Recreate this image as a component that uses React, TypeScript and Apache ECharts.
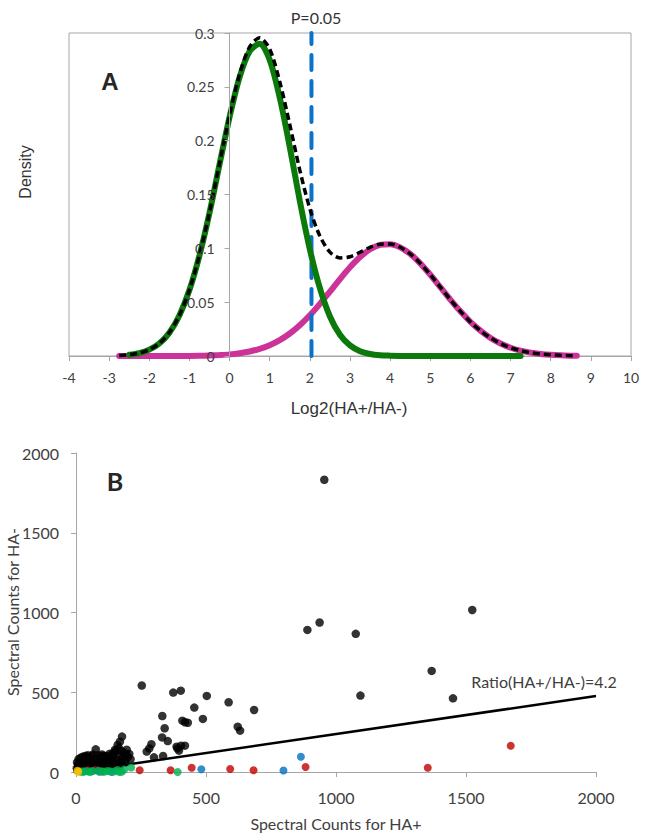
import React, { useEffect, useRef } from "react";
import * as echarts from "echarts";

// ---------- Panel A: density curves ----------
const densityX = [
  -2.75, -2.5, -2.25, -2, -1.75, -1.5, -1.25, -1, -0.75, -0.5, -0.25, 0, 0.25, 0.5, 0.75, 1, 1.25,
  1.5, 1.75, 2, 2.25, 2.5, 2.75, 3, 3.25, 3.5, 3.75, 4, 4.25, 4.5, 4.75, 5, 5.25, 5.5, 5.75, 6,
  6.25, 6.5, 6.75, 7, 7.25, 7.5, 7.75, 8, 8.25, 8.5, 8.65,
];
const greenDensity: (number | null)[] = [
  null, 0.0012, 0.0027, 0.0059, 0.0116, 0.0217, 0.0377, 0.0613, 0.0934, 0.133, 0.178, 0.222,
  0.259, 0.283, 0.29, 0.275, 0.24, 0.194, 0.144, 0.099, 0.063, 0.0367, 0.0197, 0.0098, 0.0045,
  0.0019, 0.0007, 0.0003, 0.0001, 0, 0, 0, 0, 0, 0, 0, 0, 0, 0, 0, 0, null, null, null, null,
  null, null,
];
const magentaDensity = [
  0, 0, 0, 0, 0, 0.0001, 0.0001, 0.0001, 0.0002, 0.0005, 0.0009, 0.0015, 0.0026, 0.0042, 0.0066,
  0.01, 0.0147, 0.0209, 0.0286, 0.0378, 0.0484, 0.0598, 0.0714, 0.0824, 0.0919, 0.0991, 0.1032,
  0.1038, 0.1009, 0.0948, 0.0861, 0.0755, 0.064, 0.0524, 0.0415, 0.0317, 0.0235, 0.0168, 0.0116,
  0.0077, 0.005, 0.0031, 0.0019, 0.0011, 0.0006, 0.0003, 0.0002,
];
const combinedDensity = [
  0.0005, 0.0012, 0.0027, 0.0059, 0.0116, 0.0218, 0.0378, 0.0614, 0.0936, 0.1335, 0.1789, 0.2235,
  0.2616, 0.2872, 0.2955, 0.285, 0.2547, 0.2149, 0.1726, 0.1368, 0.1114, 0.0965, 0.0911, 0.0922,
  0.0964, 0.101, 0.1039, 0.1041, 0.101, 0.0948, 0.0861, 0.0755, 0.064, 0.0524, 0.0415, 0.0317,
  0.0235, 0.0168, 0.0116, 0.0077, 0.005, 0.0031, 0.0019, 0.0011, 0.0006, 0.0003, 0.0002,
];
const cutoffX = 2.04;
const cutoffLabel = "P=0.05";

// ---------- Panel B: spectral counts scatter ----------
const blackPoints = [
  [955, 1832], [890, 891], [937, 937], [1076, 866], [1524, 1016], [1368, 634], [1094, 479],
  [1450, 462], [253, 542], [374, 498], [403, 510], [503, 477], [587, 437], [685, 389], [455, 404],
  [488, 333], [332, 351], [341, 274], [409, 322], [419, 312], [430, 309], [622, 284], [631, 259],
  [331, 217], [353, 194], [290, 174], [282, 148], [272, 128], [300, 92], [335, 100], [387, 159],
  [404, 165], [419, 165], [396, 134], [390, 148], [177, 222], [169, 190], [160, 169], [205, 113],
  [76, 142], [150, 128], [137, 107], [105, 100], [92, 96], [169, 107], [182, 96], [54, 86],
  [35, 75], [22, 65], [15, 51], [9, 38], [73, 75], [118, 75], [156, 79], [188, 75], [131, 54],
  [54, 50], [86, 59], [28, 33], [105, 44], [169, 54], [3, 23], [41, 23], [67, 33], [12, 30],
  [20, 45], [30, 55], [45, 60], [60, 65], [80, 80], [95, 70], [110, 90], [125, 85], [140, 95],
  [150, 140], [165, 150], [175, 130], [185, 120], [195, 105], [100, 55], [120, 60], [140, 65],
  [160, 70], [175, 62], [190, 58], [50, 40], [70, 45], [90, 40], [110, 35], [130, 40], [150, 42],
  [170, 45], [60, 100], [40, 95], [5, 10], [15, 15], [25, 18], [8, 50], [4, 60], [10, 80],
  [18, 90], [25, 95], [35, 100], [45, 105], [65, 110], [85, 105], [100, 110], [115, 100],
  [130, 115], [145, 120], [200, 95], [210, 80], [195, 140],
];
const redPoints = [
  [1672, 165], [1353, 27], [883, 31], [245, 11], [364, 11], [445, 27], [593, 19], [683, 11],
  [20, 5], [45, 10], [75, 12], [100, 5],
];
const bluePoints = [
  [865, 96], [482, 17], [798, 9], [138, 0], [30, 3], [60, 5], [90, 2],
];
const greenPoints = [
  [391, 0], [212, 28], [176, 2], [167, 0], [109, 2], [86, 8], [54, 0], [15, 3], [35, 5], [130, 5],
  [160, 12], [185, 15], [25, 2], [45, 4], [65, 6], [100, 3], [120, 6], [150, 4],
];
const yellowPoints = [
  [9, 2], [5, 8],
];
const ratioValue = 4.2;
const ratioLine = [
  [0, 0],
  [2000, 476],
];

const calibri = 'Lato, "Open Sans", sans-serif';
const arial = '"Liberation Sans", Arial, sans-serif';
const axisGray = "#a6a6a6";
const textGray = "#404040";

function pairs(xs: number[], ys: (number | null)[]) {
  const out: number[][] = [];
  xs.forEach((x, i) => {
    const y = ys[i];
    if (y !== null && y !== undefined) out.push([x, y]);
  });
  return out;
}

export default function App() {
  const ref = useRef<HTMLDivElement>(null);
  useEffect(() => {
    const chart = echarts.init(ref.current!, null, { renderer: "svg" });
    // top grid geometry: x from -4..10 over 562 px; y axis sits at x = 0
    const gridALeft = 69;
    const gridAWidth = 562;
    const zeroOffset = -((0 - -4) / (10 - -4)) * gridAWidth;
    const option: any = {
      animation: false,
      backgroundColor: "#ffffff",
      grid: [
        {
          left: gridALeft,
          top: 33,
          width: gridAWidth,
          height: 323,
          show: true,
          borderColor: axisGray,
          borderWidth: 1,
          backgroundColor: "transparent",
        },
        { left: 76, top: 453, width: 520, height: 319 },
      ],
      xAxis: [
        {
          type: "value",
          gridIndex: 0,
          min: -4,
          max: 10,
          interval: 1,
          splitLine: { show: false },
          axisLine: { onZero: false, lineStyle: { color: axisGray } },
          axisTick: { show: true, length: 5, lineStyle: { color: axisGray } },
          axisLabel: { fontFamily: calibri, fontSize: 14, color: textGray, margin: 14 },
        },
        {
          type: "value",
          gridIndex: 1,
          min: 0,
          max: 2000,
          interval: 500,
          splitLine: { show: false },
          axisLine: { lineStyle: { color: axisGray } },
          axisTick: { show: true, length: 5, lineStyle: { color: axisGray } },
          axisLabel: {
            fontFamily: calibri,
            fontSize: 16,
            color: textGray,
            margin: 17,
            formatter: (v: number) => String(v),
          },
        },
      ],
      yAxis: [
        {
          type: "value",
          gridIndex: 0,
          min: 0,
          max: 0.3,
          interval: 0.05,
          position: "left",
          offset: zeroOffset,
          z: 10,
          splitLine: { show: false },
          axisLine: { show: true, onZero: false, lineStyle: { color: axisGray } },
          axisTick: { show: true, length: 5, lineStyle: { color: axisGray } },
          axisLabel: {
            fontFamily: calibri,
            fontSize: 14,
            color: textGray,
            margin: 15,
            showMinLabel: true,
            showMaxLabel: true,
            hideOverlap: false,
            formatter: (v: number) => String(+v.toFixed(2)),
          },
        },
        {
          type: "value",
          gridIndex: 1,
          min: 0,
          max: 2000,
          interval: 500,
          splitLine: { show: false },
          axisLine: { show: true, lineStyle: { color: axisGray } },
          axisTick: { show: true, length: 5, lineStyle: { color: axisGray } },
          axisLabel: {
            fontFamily: calibri,
            fontSize: 16,
            color: textGray,
            margin: 17,
            formatter: (v: number) => String(v),
          },
        },
      ],
      series: [
        {
          type: "line",
          xAxisIndex: 0,
          yAxisIndex: 0,
          data: pairs(densityX, magentaDensity),
          smooth: 0.3,
          showSymbol: false,
          lineStyle: { color: "#CC3399", width: 6, cap: "round" },
          z: 2,
        },
        {
          type: "line",
          xAxisIndex: 0,
          yAxisIndex: 0,
          data: [
            [cutoffX, 0],
            [cutoffX, 0.3],
          ],
          showSymbol: false,
          lineStyle: { color: "#0A72C8", width: 4, type: [15, 11], cap: "round" },
          z: 3,
        },
        {
          type: "line",
          xAxisIndex: 0,
          yAxisIndex: 0,
          data: pairs(densityX, greenDensity),
          smooth: 0.3,
          showSymbol: false,
          lineStyle: { color: "#0B7A0B", width: 6, cap: "round" },
          z: 4,
        },
        {
          type: "line",
          xAxisIndex: 0,
          yAxisIndex: 0,
          data: pairs(densityX, combinedDensity),
          smooth: 0.3,
          showSymbol: false,
          lineStyle: { color: "#000000", width: 3.5, type: [7, 4] },
          z: 5,
        },
        {
          type: "scatter",
          xAxisIndex: 1,
          yAxisIndex: 1,
          data: blackPoints,
          symbolSize: 8.5,
          itemStyle: { color: "#000000" },
          z: 2,
        },
        {
          type: "line",
          xAxisIndex: 1,
          yAxisIndex: 1,
          data: ratioLine,
          showSymbol: false,
          lineStyle: { color: "#000000", width: 2.5 },
          z: 3,
        },
        {
          type: "scatter",
          xAxisIndex: 1,
          yAxisIndex: 1,
          data: redPoints,
          symbolSize: 8,
          itemStyle: { color: "#C00000" },
          z: 4,
        },
        {
          type: "scatter",
          xAxisIndex: 1,
          yAxisIndex: 1,
          data: bluePoints,
          symbolSize: 8,
          itemStyle: { color: "#0070C0" },
          z: 4,
        },
        {
          type: "scatter",
          xAxisIndex: 1,
          yAxisIndex: 1,
          data: greenPoints,
          symbolSize: 8,
          itemStyle: { color: "#00B050" },
          z: 5,
        },
        {
          type: "scatter",
          xAxisIndex: 1,
          yAxisIndex: 1,
          data: yellowPoints,
          symbolSize: 8,
          itemStyle: { color: "#FFC000" },
          z: 6,
        },
      ],
      graphic: [
        {
          type: "text",
          x: 25,
          y: 172,
          rotation: Math.PI / 2,
          style: {
            text: "Density",
            font: `16px ${arial}`,
            fill: "#333333",
            align: "center",
            verticalAlign: "middle",
          },
        },
        {
          type: "text",
          x: 349,
          y: 408,
          style: {
            text: "Log2(HA+/HA-)",
            font: `17px ${arial}`,
            fill: "#333333",
            align: "center",
            verticalAlign: "middle",
          },
        },
        {
          type: "text",
          x: 316,
          y: 17,
          style: {
            text: cutoffLabel,
            font: `16px ${calibri}`,
            fill: "#333333",
            align: "center",
            verticalAlign: "middle",
          },
        },
        {
          type: "text",
          x: 110,
          y: 81,
          style: {
            text: "A",
            font: `bold 24px ${arial}`,
            fill: "#262626",
            align: "center",
            verticalAlign: "middle",
          },
        },
        {
          type: "text",
          x: 115,
          y: 481,
          style: {
            text: "B",
            font: `bold 25px ${calibri}`,
            fill: "#262626",
            align: "center",
            verticalAlign: "middle",
          },
        },
        {
          type: "text",
          x: 12,
          y: 612,
          rotation: Math.PI / 2,
          style: {
            text: "Spectral Counts for HA-",
            font: `16px ${calibri}`,
            fill: textGray,
            align: "center",
            verticalAlign: "middle",
          },
        },
        {
          type: "text",
          x: 336,
          y: 823,
          style: {
            text: "Spectral Counts for HA+",
            font: `16px ${calibri}`,
            fill: textGray,
            align: "center",
            verticalAlign: "middle",
          },
        },
        {
          type: "text",
          x: 544,
          y: 681,
          style: {
            text: `Ratio(HA+/HA-)=${ratioValue}`,
            font: `16px ${calibri}`,
            fill: textGray,
            align: "center",
            verticalAlign: "middle",
          },
        },
      ],
    };
    chart.setOption(option);
    return () => chart.dispose();
  }, []);
  return (
    <div
      ref={ref}
      style={{ position: "absolute", left: 0, top: 0, width: 651, height: 834, background: "#fff" }}
    />
  );
}
